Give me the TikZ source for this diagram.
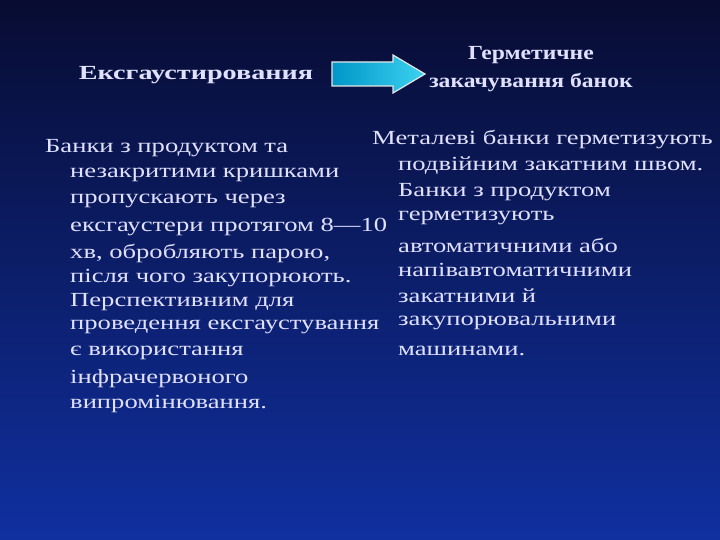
\documentclass[tikz,border=0pt]{standalone}
\usepackage{fontspec}
\setmainfont{Liberation Serif}
\newcommand{\widen}[2]{\scalebox{#1}[1]{#2}}
\begin{document}
\begin{tikzpicture}[x=1pt,y=-1pt,
  txt/.style={text=white!88!blue, font=\fontsize{20}{22}\selectfont, inner sep=0pt},
  ttl/.style={txt, font=\fontsize{20}{22}\selectfont\bfseries}]
\shade[top color={rgb,255:red,8;green,12;blue,50}, bottom color={rgb,255:red,16;green,48;blue,160}] (0,0) rectangle (720,540);
\useasboundingbox (0,0) rectangle (720,540);
\node[ttl] (t1) at (196,75) {\widen{1.41}{Ексгаустирования}};
\node[ttl] (t2) at (531,55) {\widen{1.18}{Герметичне}};
\node[ttl] (t3) at (531,83) {\widen{1.18}{закачування банок}};
\shade[left color={rgb,255:red,0;green,150;blue,200}, right color={rgb,255:red,60;green,210;blue,240}, draw=white!80!gray, line width=1.2pt]
  (332,62) -- (393,62) -- (393,55) -- (425,74) -- (393,93) -- (393,86) -- (332,86) -- cycle;
\foreach \i/\x/\y/\s in {1/45/148/Банки з продуктом та, 2/70/175/незакритими кришками, 3/70/201/пропускають через, 4/70/227/ексгаустери протягом 8—10, 5/70/253/{хв, обробляють парою,}, 6/70/278/після чого закупорюють., 7/70/302/Перспективним для, 8/70/327/проведення ексгаустування, 9/70/353/є використання, 10/70/379/інфрачервоного, 11/70/404/випромінювання.}
  \node[txt, anchor=west] (l\i) at (\x,\y) {\widen{1.33}{\s}};
\foreach \i/\x/\y/\s in {1/372/140/Металеві банки герметизують, 2/398/166/подвійним закатним швом., 3/398/192/Банки з продуктом, 4/398/218/герметизують, 5/398/245/автоматичними або, 6/398/270/напівавтоматичними, 7/398/296/закатними й, 8/398/323/закупорювальними, 9/398/351/машинами.}
  \node[txt, anchor=west] (r\i) at (\x,\y) {\widen{1.33}{\s}};
\end{tikzpicture}
\end{document}
